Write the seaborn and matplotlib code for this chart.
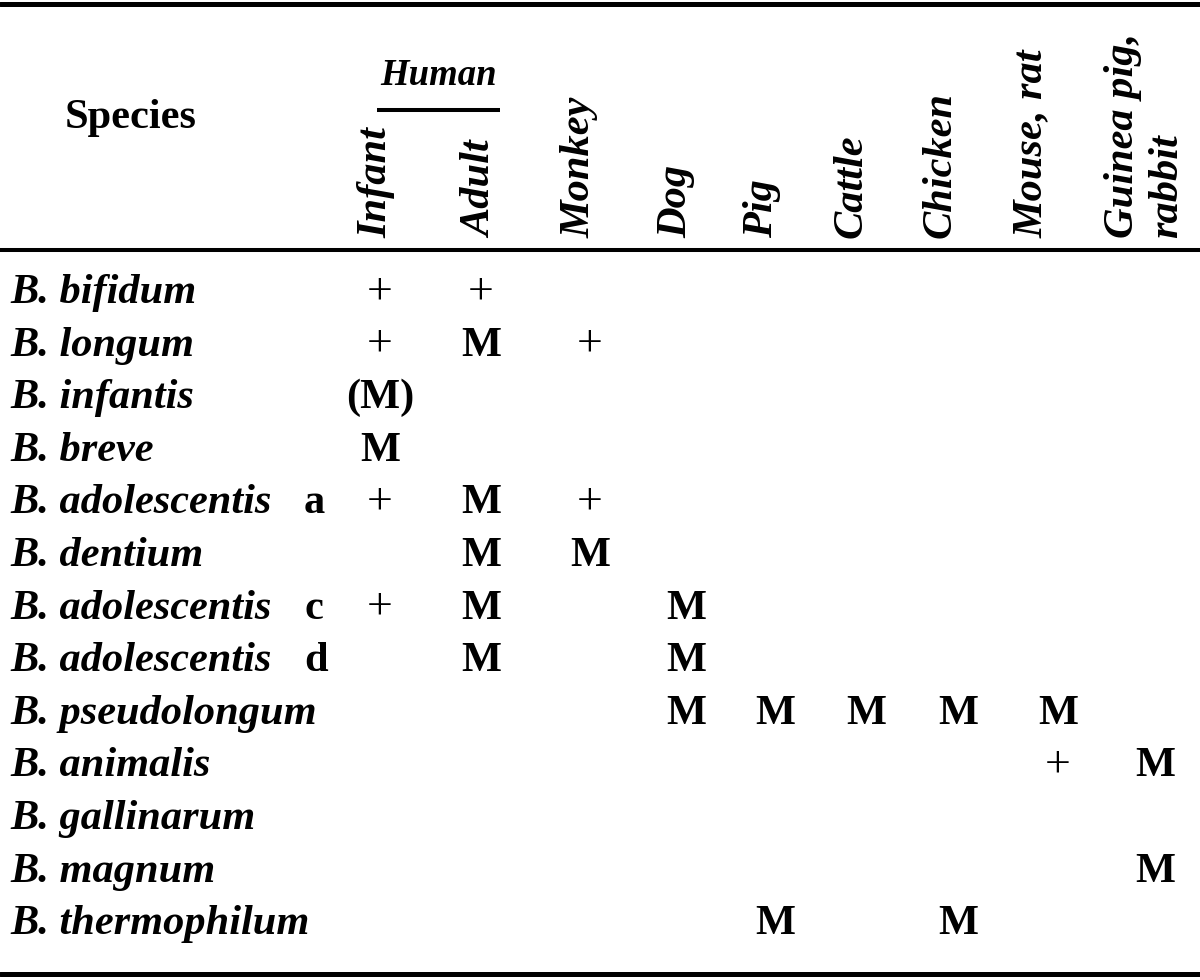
import matplotlib
matplotlib.use("Agg")
import matplotlib.pyplot as plt
import seaborn as sns

# ---------------- data ----------------
species = ["B. bifidum", "B. longum", "B. infantis", "B. breve",
           "B. adolescentis", "B. dentium", "B. adolescentis",
           "B. adolescentis", "B. pseudolongum", "B. animalis",
           "B. gallinarum", "B. magnum", "B. thermophilum"]
biovar = ["", "", "", "", "a", "", "c", "d", "", "", "", "", ""]
hosts = ["Infant", "Adult", "Monkey", "Dog", "Pig", "Cattle", "Chicken",
         "Mouse, rat", "Guinea pig,\nrabbit"]
host_group = "Human"          # spans Infant and Adult
row_header = "Species"
occurrence = [
    ["+", "+", "", "", "", "", "", "", ""],
    ["+", "M", "+", "", "", "", "", "", ""],
    ["(M)", "", "", "", "", "", "", "", ""],
    ["M", "", "", "", "", "", "", "", ""],
    ["+", "M", "+", "", "", "", "", "", ""],
    ["", "M", "M", "", "", "", "", "", ""],
    ["+", "M", "", "M", "", "", "", "", ""],
    ["", "M", "", "M", "", "", "", "", ""],
    ["", "", "", "M", "M", "M", "M", "M", ""],
    ["", "", "", "", "", "", "", "+", "M"],
    ["", "", "", "", "", "", "", "", ""],
    ["", "", "", "", "", "", "", "", "M"],
    ["", "", "", "", "M", "", "M", "", ""],
]

# ---------------- layout ----------------
W, H = 1200, 980
col_x = [380, 481, 590, 686, 775, 866, 958, 1058, 1155]       # cell centres
head_x = [386, 491, 590, 686, 772, 862, 951, 1042, 1171]      # rotated label baselines (last line)
head_bottom = 238
row_base0, row_step = 303, 52.6
name_x, biovar_x = 10, 304
FS = 30.5
INK = "black"

sns.set_theme(style="white")
plt.rcParams["font.family"] = ["Liberation Serif", "DejaVu Serif"]
plt.rcParams["text.color"] = INK

fig = plt.figure(figsize=(W / 100, H / 100), dpi=100)
fig.patch.set_facecolor("white")
ax = fig.add_axes([0, 0, 1, 1])
ax.set_xlim(0, W)
ax.set_ylim(H, 0)
ax.axis("off")

# rules
ax.axhline(4, color=INK, lw=3.6)
ax.axhline(250, color=INK, lw=2.9)
ax.axhline(974, color=INK, lw=3.6)
ax.plot([377, 500], [110, 110], color=INK, lw=2.9, solid_capstyle="butt")

# header
ax.text(131, 128, row_header, fontsize=FS, fontweight="bold", color=INK,
        ha="center", va="baseline")
ax.text(439, 85, host_group, fontsize=26.5, fontweight="bold", color=INK,
        fontstyle="italic", ha="center", va="baseline")
for hx, lab in zip(head_x, hosts):
    ax.text(hx, head_bottom, lab, fontsize=FS, fontweight="bold", color=INK,
            fontstyle="italic", rotation=90, rotation_mode="anchor",
            ha="left", va="baseline", multialignment="left",
            linespacing=1.2)

# body
for i, (name, bv, row) in enumerate(zip(species, biovar, occurrence)):
    yb = row_base0 + i * row_step
    ax.text(name_x, yb, name, fontsize=FS, fontweight="bold", color=INK,
            fontstyle="italic", ha="left", va="baseline")
    if bv:
        ax.text(biovar_x, yb, bv, fontsize=FS, fontweight="bold", color=INK,
                ha="left", va="baseline")
    for cx, val in zip(col_x, row):
        if not val:
            continue
        plus = val == "+"
        ax.text(cx, yb, val, fontsize=33 if plus else FS, color=INK,
                fontweight="normal" if plus else "bold",
                ha="center", va="baseline")

fig.savefig("out.png", dpi=100, facecolor="white")
